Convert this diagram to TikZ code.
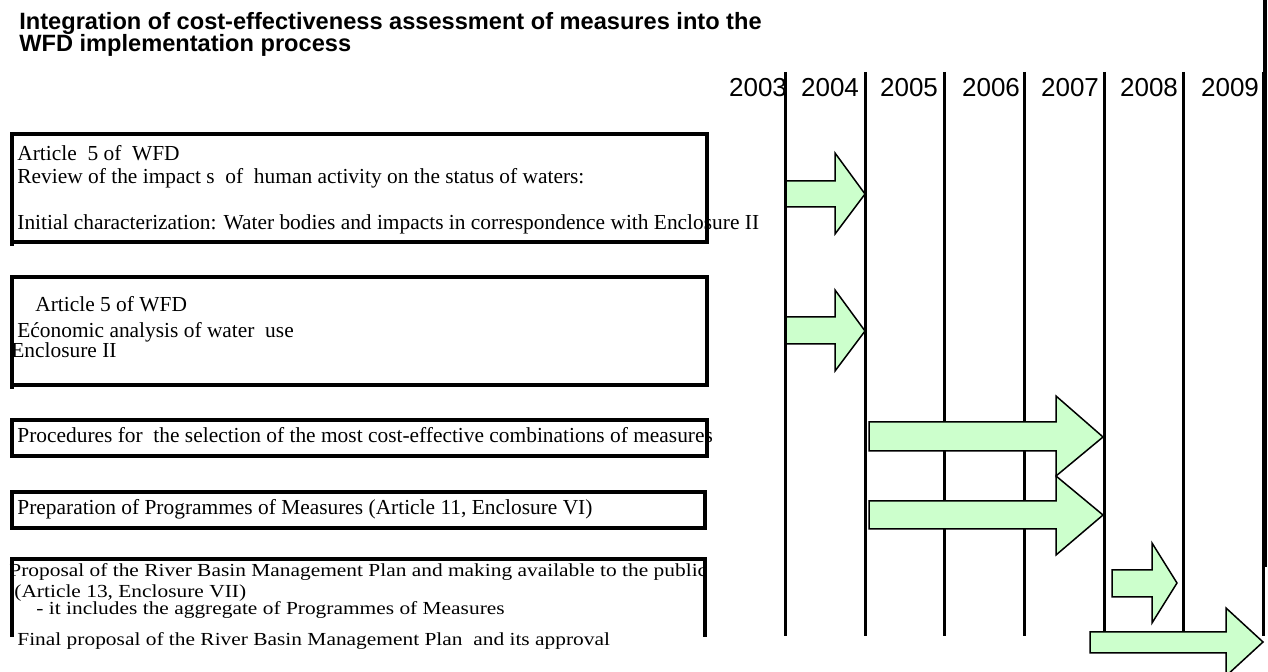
\documentclass[tikz,border=0pt]{standalone}
\usepackage{graphicx}
\usepackage{fontspec}
\setmainfont{Liberation Serif}
\newfontfamily\headfont{Liberation Sans}
\definecolor{arrowgreen}{HTML}{CCFFCC}
\tikzset{
  frameline/.style={line width=2pt},
  yearline/.style={line width=1.5pt},
  bodytext/.style={anchor=base west, inner sep=0pt, font=\fontsize{10.7}{11.5}\selectfont},
  titletext/.style={anchor=base west, inner sep=0pt, font=\headfont\bfseries\fontsize{11.8}{13}\selectfont},
  yeartext/.style={anchor=center, inner sep=0pt, font=\headfont\fontsize{13}{14}\selectfont},
  greenarrow/.style={fill=arrowgreen, draw=black, line width=0.75pt, line join=miter}
}
% vertically squeezed text line
\newcommand\lowline[1]{\scalebox{1}[0.86]{#1}}
% block arrow: tail x, head base x, tip x, head top y, body top y, tip y, body bottom y, head bottom y
\newcommand\gblockarrow[8]{%
  \draw[greenarrow] (#1,#5) -- (#2,#5) -- (#2,#4) -- (#3,#6) -- (#2,#8) -- (#2,#7) -- (#1,#7) -- cycle;}
\begin{document}
\begin{tikzpicture}[x=0.5pt,y=-0.5pt]
\useasboundingbox (0,0) rectangle (1268,672);
\clip (0,0) rectangle (1268,672);

% title
\node[titletext] (title1) at (19,30) {Integration of cost-effectiveness assessment of measures into the};
\node[titletext] (title2) at (19,52) {WFD implementation process};

% year columns
\foreach \x in {785,865,944,1024,1104,1183,1263}
  \draw[yearline] (\x,72) -- (\x,636);
\draw[line width=2pt] (1265,0) -- (1265,567);
\foreach \x/\y in {758/2003,830/2004,909/2005,991/2006,1070/2007,1149/2008,1230/2009}
  \node[yeartext] (y\y) at (\x,88) {\y};

% box texts
\node[bodytext] (a1) at (17,161) {Article\ \ 5 of\ \ WFD};
\node[bodytext] (a2) at (17,184) {Review of the impact s\ \ of\ \ human activity on the status of waters:};
\node[bodytext] (a3) at (17,230) {Initial characterization: Water bodies and impacts in correspondence with Enclosure II};

\node[bodytext] (b1) at (35,312) {Article 5 of WFD};
\node[bodytext] (b2) at (17,338) {Ećonomic analysis of water\ \ use};
\node[bodytext] (b3) at (11,358) {Enclosure II};

\node[bodytext] (c1) at (17,443) {Procedures for\ \ the selection of the most cost-effective combinations of measures};
\node[bodytext] (d1) at (17,515) {Preparation of Programmes of Measures (Article 11, Enclosure VI)};

\node[bodytext] (e1) at (9,577) {\lowline{Proposal of the River Basin Management Plan and making available to the public}};
\node[bodytext] (e2) at (14,598) {\lowline{(Article 13, Enclosure VII)}};
\node[bodytext] (e3) at (36,615) {\lowline{- it includes the aggregate of Programmes of Measures}};
\node[bodytext] (e4) at (17,646) {\lowline{Final proposal of the River Basin Management Plan\ \ and its approval}};

% frames (left edges run a little past the bottom edge)
\draw[frameline] (12,134) rectangle (707,242);
\draw[frameline] (12,242) -- (12,246);
\draw[frameline] (12,277) rectangle (707,385);
\draw[frameline] (12,385) -- (12,389);
\draw[frameline] (12,420) rectangle (707,456);
\draw[frameline] (12,492) rectangle (705,528);
\draw[frameline] (12,637) -- (12,559) -- (705,559) -- (705,637);

% timeline arrows
\gblockarrow{786}{835}{865}{153}{181}{194}{207}{234}
\gblockarrow{786}{835}{865}{290}{317}{331}{344}{371}
\gblockarrow{869}{1056}{1103}{396}{422}{437}{451}{476}
\gblockarrow{869}{1056}{1103}{476}{501}{515}{529}{555}
\gblockarrow{1112}{1152}{1177}{543}{570}{583}{597}{623}
\gblockarrow{1090}{1226}{1263}{608}{632}{642}{653}{676}
\end{tikzpicture}
\end{document}
